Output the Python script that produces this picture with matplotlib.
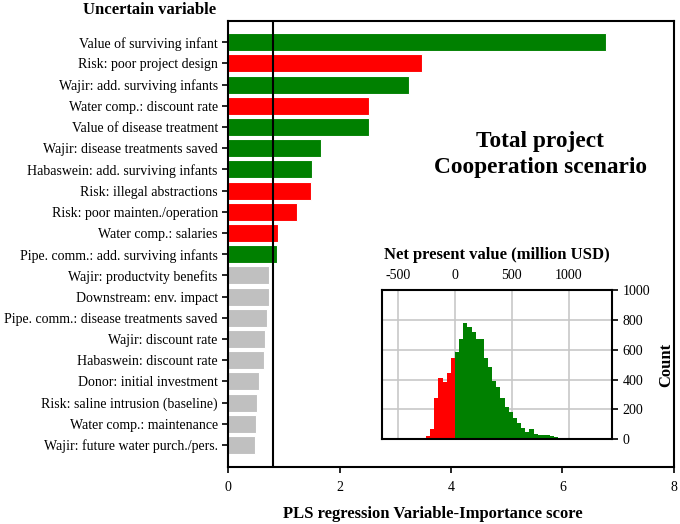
import numpy as np
import matplotlib
matplotlib.use("Agg")
import matplotlib.pyplot as plt

plt.rcParams["font.family"] = ["Liberation Serif", "DejaVu Serif"]
plt.rcParams["axes.unicode_minus"] = False

# PLS variable importance, top to bottom
variables = [
    "Value of surviving infant",
    "Risk: poor project design",
    "Wajir: add. surviving infants",
    "Water comp.: discount rate",
    "Value of disease treatment",
    "Wajir: disease treatments saved",
    "Habaswein: add. surviving infants",
    "Risk: illegal abstractions",
    "Risk: poor mainten./operation",
    "Water comp.: salaries",
    "Pipe. comm.: add. surviving infants",
    "Wajir: productvity benefits",
    "Downstream: env. impact",
    "Pipe. comm.: disease treatments saved",
    "Wajir: discount rate",
    "Habaswein: discount rate",
    "Donor: initial investment",
    "Risk: saline intrusion (baseline)",
    "Water comp.: maintenance",
    "Wajir: future water purch./pers.",
]
vip_scores = [6.78, 3.48, 3.25, 2.52, 2.52, 1.67, 1.51, 1.49, 1.23, 0.89, 0.88,
              0.725, 0.725, 0.69, 0.66, 0.64, 0.55, 0.51, 0.49, 0.48]
# positive / negative effect, None = not important
effect = ["+", "-", "+", "-", "+", "+", "+", "-", "-", "-", "+",
          None, None, None, None, None, None, None, None, None]
vip_threshold = 0.8

# NPV histogram (million USD)
npv_bin_width = 36.4
npv_first_bin = -7
npv_counts = [20, 65, 278, 408, 385, 446, 547,
              587, 670, 778, 751, 720, 670, 670, 547, 486, 390, 348, 274, 217,
              184, 139, 105, 76, 45, 65, 31, 27, 25, 24, 22, 13, 8]

colors = {"+": "#008000", "-": "#ff0000", None: "#c0c0c0"}

fig = plt.figure(figsize=(6.8, 5.24), dpi=100)
ax = fig.add_axes([0.3357, 0.1088, 0.655, 0.8512])

y = np.arange(len(variables))
ax.barh(y, vip_scores, height=0.85, color=[colors[e] for e in effect],
        edgecolor="white", linewidth=0.8)
ax.axvline(vip_threshold, color="black", lw=1.5)
ax.set_yticks(y)
ax.set_yticklabels(variables, fontsize=10)
ax.set_ylim(len(variables) - 1 + 1.04, -1.0)
ax.set_xlim(0, 8)
ax.set_xticks([0, 2, 4, 6, 8])
ax.tick_params(axis="both", direction="out", length=4, width=1.2, labelsize=10)
ax.tick_params(axis="x", pad=6)
for s in ax.spines.values():
    s.set_linewidth(1.5)
ax.set_xlabel("PLS regression Variable-Importance score", fontsize=12,
              fontweight="bold")
ax.xaxis.set_label_coords(0.46, -0.088)
fig.text(150 / 680, 1 - 10 / 524, "Uncertain variable", fontsize=12,
         fontweight="bold", ha="center", va="center")
ax.text(0.70, 0.70, "Total project\nCooperation scenario", transform=ax.transAxes,
        fontsize=16.8, fontweight="bold", ha="center", va="center",
        linespacing=1.3)

# inset histogram
ins = fig.add_axes([0.5622, 0.1622, 0.3382, 0.2838])
edges = (np.arange(len(npv_counts)) + npv_first_bin) * npv_bin_width
hcol = ["#ff0000" if e < 0 else "#008000" for e in edges]
ins.bar(edges, npv_counts, width=npv_bin_width, align="edge", color=hcol,
        linewidth=0, zorder=2)
ins.set_xlim(-640, 1385)
ins.set_ylim(0, 1000)
ins.set_xticks([-500, 0, 500, 1000])
ins.set_yticks([0, 200, 400, 600, 800, 1000])
ins.xaxis.tick_top()
ins.xaxis.set_label_position("top")
ins.yaxis.tick_right()
ins.yaxis.set_label_position("right")
ins.tick_params(axis="x", length=0, labelsize=10, pad=6)
ins.tick_params(axis="y", direction="out", length=4, width=1.2, labelsize=10)
ins.grid(True, color="#c8c8c8", lw=1.2, zorder=0)
ins.set_axisbelow(True)
for s in ins.spines.values():
    s.set_linewidth(1.5)
ins.set_xlabel("Net present value (million USD)", fontsize=12, fontweight="bold",
               labelpad=7)
ins.set_ylabel("Count", fontsize=12, fontweight="bold", labelpad=6)

fig.savefig("out.png", dpi=100)
